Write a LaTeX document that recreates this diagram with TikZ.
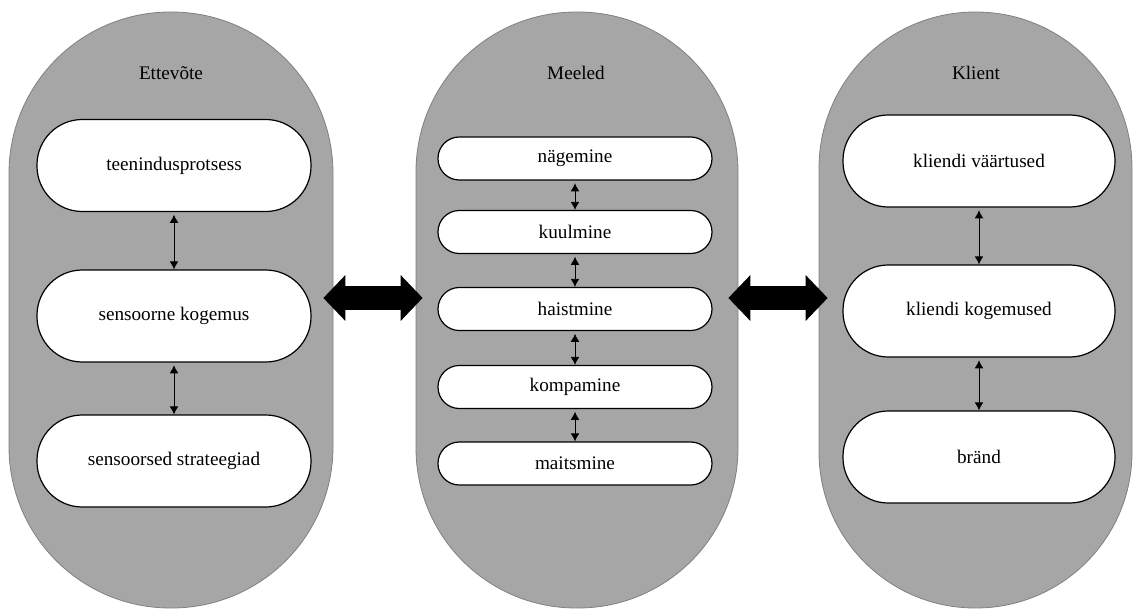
\documentclass[tikz,border=0pt]{standalone}
\usepackage{fontspec}
\setmainfont{Liberation Serif}
\usepackage{tikz}
\usetikzlibrary{arrows.meta, positioning, shapes}
\definecolor{pillgray}{gray}{0.65}
\definecolor{pilledge}{gray}{0.50}

\begin{document}
\begin{tikzpicture}[x=0.75pt, y=-0.75pt,
	group/.style={draw=pilledge, fill=pillgray, line width=0.6pt, minimum height=447pt, inner sep=0pt},
	bigpill/.style={draw, fill=white, line width=0.9pt, minimum width=205.5pt, minimum height=69pt, rounded corners=34pt},
	smallpill/.style={draw, fill=white, line width=0.9pt, minimum width=205.5pt, minimum height=32.25pt, rounded corners=16pt},
	link/.style={{Latex[length=6pt,width=6.5pt]}-{Latex[length=6pt,width=6.5pt]}, line width=0.6pt, shorten <=2pt},
	bigarrow/.style={{Triangle[width=34.5pt,length=16.5pt,line width=0pt]}-{Triangle[width=34.5pt,length=16.5pt,line width=0pt]}, line width=18pt},
	every node/.style={font=\fontsize{14.4}{17}\selectfont}
]

\useasboundingbox (0,0) rectangle (1133,610);

\def \ymid{310} % centre line of the three groups

% groups
\node[group, minimum width=243pt,    rounded corners=121pt] (ettevote) at (171,   \ymid) {};
\node[group, minimum width=241.5pt,  rounded corners=120pt] (meeled)   at (577,   \ymid) {};
\node[group, minimum width=234.75pt, rounded corners=117pt] (klient)   at (975.5, \ymid) {};

\node (ettevotetitle) at (171, 73) {Ettevõte};
\node (meeledtitle)   at (576, 73) {Meeled};
\node (klienttitle)   at (976, 73) {Klient};

% left group
\node[bigpill] (teenindus)   at (174, 165.5) {teenindusprotsess};
\node[bigpill] (kogemus)     at (174, 316)   {sensoorne kogemus};
\node[bigpill] (strateegiad) at (174, 461)   {sensoorsed strateegiad};

% senses
\foreach \name/\y/\txt in {nagemine/158.5/nägemine, kuulmine/232/kuulmine, haistmine/309/haistmine, kompamine/387/kompamine, maitsmine/463.5/maitsmine} {
	\node[smallpill] (\name) at (575, \y) {\txt};
}

% right group
\node[bigpill, minimum width=204pt] (vaartused) at (979, 161) {kliendi väärtused};
\node[bigpill, minimum width=204pt] (kkogemused) at (979, 311) {kliendi kogemused};
\node[bigpill, minimum width=204pt] (brand)     at (979, 457) {bränd};

\foreach \a/\b in {teenindus/kogemus, kogemus/strateegiad, nagemine/kuulmine, kuulmine/haistmine, haistmine/kompamine, kompamine/maitsmine, vaartused/kkogemused, kkogemused/brand} {
	\draw[link] (\a.south) -- (\b.north);
}

\draw[bigarrow] ([shift={(-10,-12)}]ettevote.east) -- ([shift={(7,-12)}]meeled.west);
\draw[bigarrow] ([shift={(-10,-12)}]meeled.east) -- ([shift={(9,-12)}]klient.west);

\end{tikzpicture}
\end{document}
